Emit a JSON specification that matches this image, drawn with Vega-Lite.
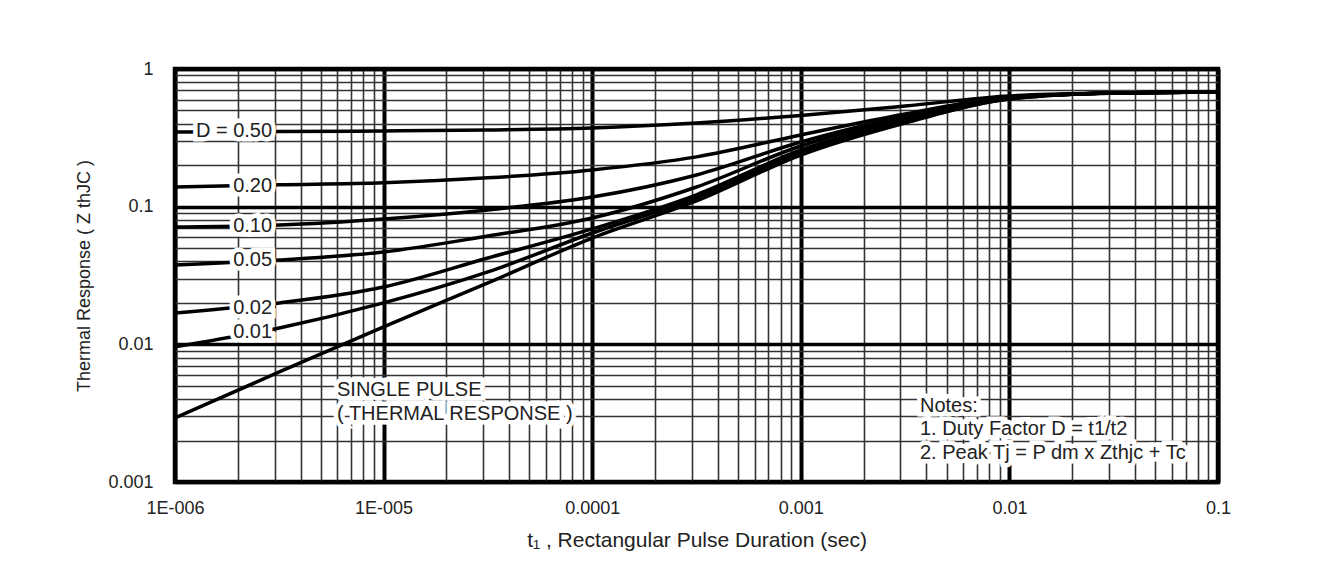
{
  "$schema": "https://vega.github.io/schema/vega-lite/v6.json",
  "autosize": {"type": "none"},
  "padding": {"left": 175, "top": 69, "right": 109, "bottom": 82},
  "width": 1043,
  "height": 413,
  "background": "white",
  "config": {
    "view": {"stroke": "black", "strokeWidth": 4.5},
    "font": "Liberation Sans",
    "axis": {"labelFont": "Liberation Sans", "titleFont": "Liberation Sans", "labelColor": "#222", "titleColor": "#222", "titleFontWeight": "normal"}
  },
  "datasets": {
    "curves": [
      {"D": "0.50", "t": 1e-6, "z": 0.349}, {"D": "0.50", "t": 3.162e-6, "z": 0.351}, {"D": "0.50", "t": 1e-5, "z": 0.355}, {"D": "0.50", "t": 3.162e-5, "z": 0.361}, {"D": "0.50", "t": 1e-4, "z": 0.373}, {"D": "0.50", "t": 3.162e-4, "z": 0.405}, {"D": "0.50", "t": 1e-3, "z": 0.460}, {"D": "0.50", "t": 3.162e-3, "z": 0.538}, {"D": "0.50", "t": 1e-2, "z": 0.637}, {"D": "0.50", "t": 3.162e-2, "z": 0.669}, {"D": "0.50", "t": 0.1, "z": 0.681},
      {"D": "0.20", "t": 1e-6, "z": 0.139}, {"D": "0.20", "t": 3.162e-6, "z": 0.144}, {"D": "0.20", "t": 1e-5, "z": 0.149}, {"D": "0.20", "t": 3.162e-5, "z": 0.162}, {"D": "0.20", "t": 1e-4, "z": 0.185}, {"D": "0.20", "t": 3.162e-4, "z": 0.230}, {"D": "0.20", "t": 1e-3, "z": 0.332}, {"D": "0.20", "t": 3.162e-3, "z": 0.471}, {"D": "0.20", "t": 1e-2, "z": 0.626}, {"D": "0.20", "t": 3.162e-2, "z": 0.669}, {"D": "0.20", "t": 0.1, "z": 0.681},
      {"D": "0.10", "t": 1e-6, "z": 0.0712}, {"D": "0.10", "t": 3.162e-6, "z": 0.0736}, {"D": "0.10", "t": 1e-5, "z": 0.0814}, {"D": "0.10", "t": 3.162e-5, "z": 0.0947}, {"D": "0.10", "t": 1e-4, "z": 0.1175}, {"D": "0.10", "t": 3.162e-4, "z": 0.170}, {"D": "0.10", "t": 1e-3, "z": 0.295}, {"D": "0.10", "t": 3.162e-3, "z": 0.456}, {"D": "0.10", "t": 1e-2, "z": 0.626}, {"D": "0.10", "t": 3.162e-2, "z": 0.669}, {"D": "0.10", "t": 0.1, "z": 0.681},
      {"D": "0.05", "t": 1e-6, "z": 0.0377}, {"D": "0.05", "t": 3.162e-6, "z": 0.0410}, {"D": "0.05", "t": 1e-5, "z": 0.0469}, {"D": "0.05", "t": 3.162e-5, "z": 0.0612}, {"D": "0.05", "t": 1e-4, "z": 0.0828}, {"D": "0.05", "t": 3.162e-4, "z": 0.139}, {"D": "0.05", "t": 1e-3, "z": 0.276}, {"D": "0.05", "t": 3.162e-3, "z": 0.4406}, {"D": "0.05", "t": 1e-2, "z": 0.616}, {"D": "0.05", "t": 3.162e-2, "z": 0.669}, {"D": "0.05", "t": 0.1, "z": 0.681},
      {"D": "0.02", "t": 1e-6, "z": 0.0169}, {"D": "0.02", "t": 3.162e-6, "z": 0.0200}, {"D": "0.02", "t": 1e-5, "z": 0.0261}, {"D": "0.02", "t": 3.162e-5, "z": 0.0424}, {"D": "0.02", "t": 1e-4, "z": 0.0689}, {"D": "0.02", "t": 3.162e-4, "z": 0.122}, {"D": "0.02", "t": 1e-3, "z": 0.258}, {"D": "0.02", "t": 3.162e-3, "z": 0.426}, {"D": "0.02", "t": 1e-2, "z": 0.616}, {"D": "0.02", "t": 3.162e-2, "z": 0.669}, {"D": "0.02", "t": 0.1, "z": 0.681},
      {"D": "0.01", "t": 1e-6, "z": 0.00958}, {"D": "0.01", "t": 3.162e-6, "z": 0.01316}, {"D": "0.01", "t": 1e-5, "z": 0.0200}, {"D": "0.01", "t": 3.162e-5, "z": 0.0336}, {"D": "0.01", "t": 1e-4, "z": 0.0644}, {"D": "0.01", "t": 3.162e-4, "z": 0.116}, {"D": "0.01", "t": 1e-3, "z": 0.249}, {"D": "0.01", "t": 3.162e-3, "z": 0.412}, {"D": "0.01", "t": 1e-2, "z": 0.606}, {"D": "0.01", "t": 3.162e-2, "z": 0.669}, {"D": "0.01", "t": 0.1, "z": 0.681},
      {"D": "single", "t": 1e-6, "z": 0.00292}, {"D": "single", "t": 3.162e-6, "z": 0.0063}, {"D": "single", "t": 1e-5, "z": 0.0134}, {"D": "single", "t": 3.162e-5, "z": 0.0279}, {"D": "single", "t": 1e-4, "z": 0.0592}, {"D": "single", "t": 3.162e-4, "z": 0.110}, {"D": "single", "t": 1e-3, "z": 0.237}, {"D": "single", "t": 3.162e-3, "z": 0.405}, {"D": "single", "t": 1e-2, "z": 0.606}, {"D": "single", "t": 3.162e-2, "z": 0.669}, {"D": "single", "t": 0.1, "z": 0.681}
    ],
    "curveLabels": [
      {"t": 2.92e-6, "z": 0.354, "label": "D = 0.50"},
      {"t": 2.92e-6, "z": 0.141, "label": "0.20"},
      {"t": 2.92e-6, "z": 0.0724, "label": "0.10"},
      {"t": 2.92e-6, "z": 0.0408, "label": "0.05"},
      {"t": 2.92e-6, "z": 0.0183, "label": "0.02"},
      {"t": 2.92e-6, "z": 0.0123, "label": "0.01"}
    ],
    "notes": [
      {"t": 5.98e-6, "z": 0.00467, "label": "SINGLE PULSE"},
      {"t": 5.98e-6, "z": 0.00313, "label": "( THERMAL RESPONSE )"},
      {"t": 0.003727, "z": 0.00357, "label": "Notes:"},
      {"t": 0.003727, "z": 0.00243, "label": "1. Duty Factor D = t1/t2"},
      {"t": 0.003727, "z": 0.001627, "label": "2. Peak Tj = P dm x Zthjc + Tc"}
    ]
  },
  "layer": [
    {
      "data": {"name": "curves"},
      "mark": {"type": "line", "color": "black", "strokeWidth": 3.5, "interpolate": "monotone", "clip": true},
      "encoding": {
        "x": {
          "field": "t", "type": "quantitative",
          "scale": {"type": "log", "domain": [1e-6, 0.1], "nice": false},
          "axis": {
            "values": [1e-6, 2e-6, 3e-6, 4e-6, 5e-6, 6e-6, 7e-6, 8e-6, 9e-6, 1e-5, 2e-5, 3e-5, 4e-5, 5e-5, 6e-5, 7e-5, 8e-5, 9e-5, 1e-4, 2e-4, 3e-4, 4e-4, 5e-4, 6e-4, 7e-4, 8e-4, 9e-4, 0.001, 0.002, 0.003, 0.004, 0.005, 0.006, 0.007, 0.008, 0.009, 0.01, 0.02, 0.03, 0.04, 0.05, 0.06, 0.07, 0.08, 0.09, 0.1],
            "labelExpr": "indexof([1e-6, 1e-5, 1e-4, 0.001, 0.01, 0.1], datum.value) >= 0 ? ['1E-006', '1E-005', '0.0001', '0.001', '0.01', '0.1'][indexof([1e-6, 1e-5, 1e-4, 0.001, 0.01, 0.1], datum.value)] : ''",
            "grid": true,
            "gridColor": {"condition": {"test": "indexof([1e-6, 1e-5, 1e-4, 0.001, 0.01, 0.1], datum.value) >= 0", "value": "black"}, "value": "#333"},
            "gridWidth": {"condition": {"test": "indexof([1e-6, 1e-5, 1e-4, 0.001, 0.01, 0.1], datum.value) >= 0", "value": 4}, "value": 1.6},
            "gridOpacity": 1,
            "ticks": false,
            "domain": false,
            "labelOverlap": false,
            "labelFlush": false,
            "labelFontSize": 18,
            "labelPadding": 17,
            "title": "t₁ , Rectangular Pulse Duration (sec)",
            "titleFontSize": 21,
            "titlePadding": 12
          }
        },
        "y": {
          "field": "z", "type": "quantitative",
          "scale": {"type": "log", "domain": [0.001, 1], "nice": false},
          "axis": {
            "values": [0.001, 0.002, 0.003, 0.004, 0.005, 0.006, 0.007, 0.008, 0.009, 0.01, 0.02, 0.03, 0.04, 0.05, 0.06, 0.07, 0.08, 0.09, 0.1, 0.2, 0.3, 0.4, 0.5, 0.6, 0.7, 0.8, 0.9, 1],
            "labelExpr": "indexof([0.001, 0.01, 0.1, 1], datum.value) >= 0 ? ['0.001', '0.01', '0.1', '1'][indexof([0.001, 0.01, 0.1, 1], datum.value)] : ''",
            "grid": true,
            "gridColor": {"condition": {"test": "indexof([0.001, 0.01, 0.1, 1], datum.value) >= 0", "value": "black"}, "value": "#333"},
            "gridWidth": {"condition": {"test": "indexof([0.001, 0.01, 0.1, 1], datum.value) >= 0", "value": 3.5}, "value": 1.6},
            "gridOpacity": 1,
            "ticks": false,
            "domain": false,
            "labelOverlap": false,
            "labelFlush": false,
            "labelFontSize": 18,
            "labelPadding": 22,
            "title": "Thermal Response ( Z  thJC )",
            "titleFontSize": 18,
            "titlePadding": 14
          }
        },
        "detail": {"field": "D", "type": "nominal"}
      }
    },
    {
      "data": {"name": "curveLabels"},
      "mark": {"type": "text", "align": "right", "baseline": "middle", "fontSize": 20, "fill": "white", "stroke": "white", "strokeWidth": 9, "strokeJoin": "miter"},
      "encoding": {"x": {"field": "t", "type": "quantitative"}, "y": {"field": "z", "type": "quantitative"}, "text": {"field": "label"}}
    },
    {
      "data": {"name": "curveLabels"},
      "mark": {"type": "text", "align": "right", "baseline": "middle", "fontSize": 20, "color": "#222"},
      "encoding": {"x": {"field": "t", "type": "quantitative"}, "y": {"field": "z", "type": "quantitative"}, "text": {"field": "label"}}
    },
    {
      "data": {"name": "notes"},
      "mark": {"type": "text", "align": "left", "baseline": "middle", "fontSize": 20, "fill": "white", "stroke": "white", "strokeWidth": 9, "strokeJoin": "miter"},
      "encoding": {"x": {"field": "t", "type": "quantitative"}, "y": {"field": "z", "type": "quantitative"}, "text": {"field": "label"}}
    },
    {
      "data": {"name": "notes"},
      "mark": {"type": "text", "align": "left", "baseline": "middle", "fontSize": 20, "color": "#222"},
      "encoding": {"x": {"field": "t", "type": "quantitative"}, "y": {"field": "z", "type": "quantitative"}, "text": {"field": "label"}}
    }
  ]
}
